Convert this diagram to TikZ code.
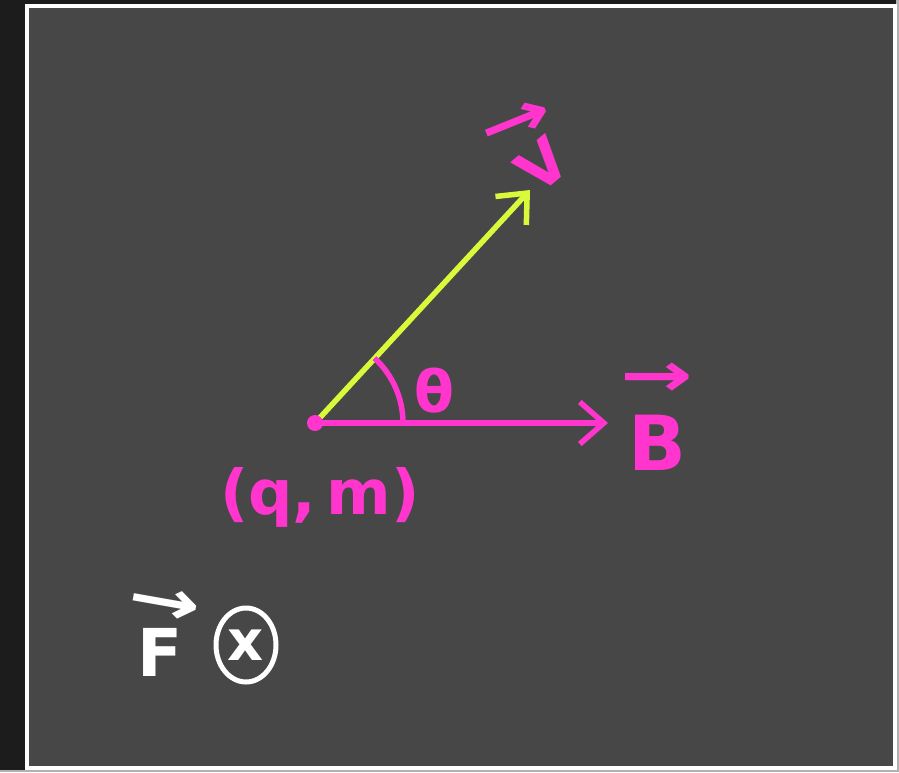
\documentclass[tikz,border=0pt]{standalone}
\usepackage{fontspec}
\setsansfont{DejaVu Sans}
\usetikzlibrary{arrows.meta,calc,shapes.geometric}
\definecolor{outerbg}{HTML}{1C1C1C}
\definecolor{boardbg}{HTML}{474747}
\definecolor{pinkc}{HTML}{FF35CD}
\definecolor{limec}{HTML}{D8FA3A}
\tikzset{
  vecline/.style={line width=5.5pt, line cap=round, -{Straight Barb[length=24pt,width=42pt,line width=5.5pt]}},
  lab/.style={inner sep=0pt, font=\sffamily},
  arrowglyph/.style={inner sep=0pt, font=\sffamily\bfseries\fontsize{62}{62}\selectfont},
}
\begin{document}
\begin{tikzpicture}[x=1pt,y=-1pt]
\useasboundingbox (0,0) rectangle (899,772);
\fill[outerbg] (0,0) rectangle (899,772);
\fill[gray!60] (896,0) rectangle (899,772);
\fill[gray!60] (0,770) rectangle (899,772);
\draw[white, line width=4pt, fill=boardbg] (27,6) rectangle (895,768);
% points
\coordinate (o) at (315,423);
\coordinate (vt) at (530,190);
\coordinate (bt) at (608,423);
\draw[vecline, limec] (o) -- (vt);
\draw[vecline, pinkc] (o) -- (bt);
\fill[pinkc] (o) circle (8);
% angle arc
\draw[pinkc, line width=5.5pt] ($(o)+(0:88)$) arc[start angle=0, end angle=-47.5, radius=88];
% labels
\node[lab, text=pinkc, font=\sffamily\bfseries\fontsize{58}{62}\selectfont] (th) at (434,391) {θ};
% B
\node[lab, text=pinkc, font=\sffamily\bfseries\fontsize{76}{80}\selectfont] (bl) at (657,443) {B};
\node[arrowglyph, text=pinkc] (ba) at (657,380) {\scalebox{1.4}[1]{→}};
% V (rotated)
\node[lab, text=pinkc, rotate=40, font=\sffamily\bfseries\fontsize{60}{64}\selectfont] (vl) at (542,165) {V};
\node[arrowglyph, text=pinkc, rotate=22] (va) at (517,124) {\scalebox{1.4}[1]{→}};
% (q,m)
\node[lab, text=pinkc, font=\sffamily\bfseries\fontsize{62}{66}\selectfont] (qm) at (320,497) {(q,\,m)};
% F
\node[lab, text=white, font=\sffamily\bfseries\fontsize{66}{70}\selectfont] (fl) at (160,652) {F};
\node[arrowglyph, text=white, rotate=-10] (fa) at (164,605) {\scalebox{1.4}[1]{→}};
\node[draw=white, line width=5pt, ellipse, minimum width=60pt, minimum height=74pt, inner sep=0pt, text=white, font=\sffamily\bfseries\fontsize{56}{60}\selectfont] (fx) at (246,645) {x};
\end{tikzpicture}
\end{document}
